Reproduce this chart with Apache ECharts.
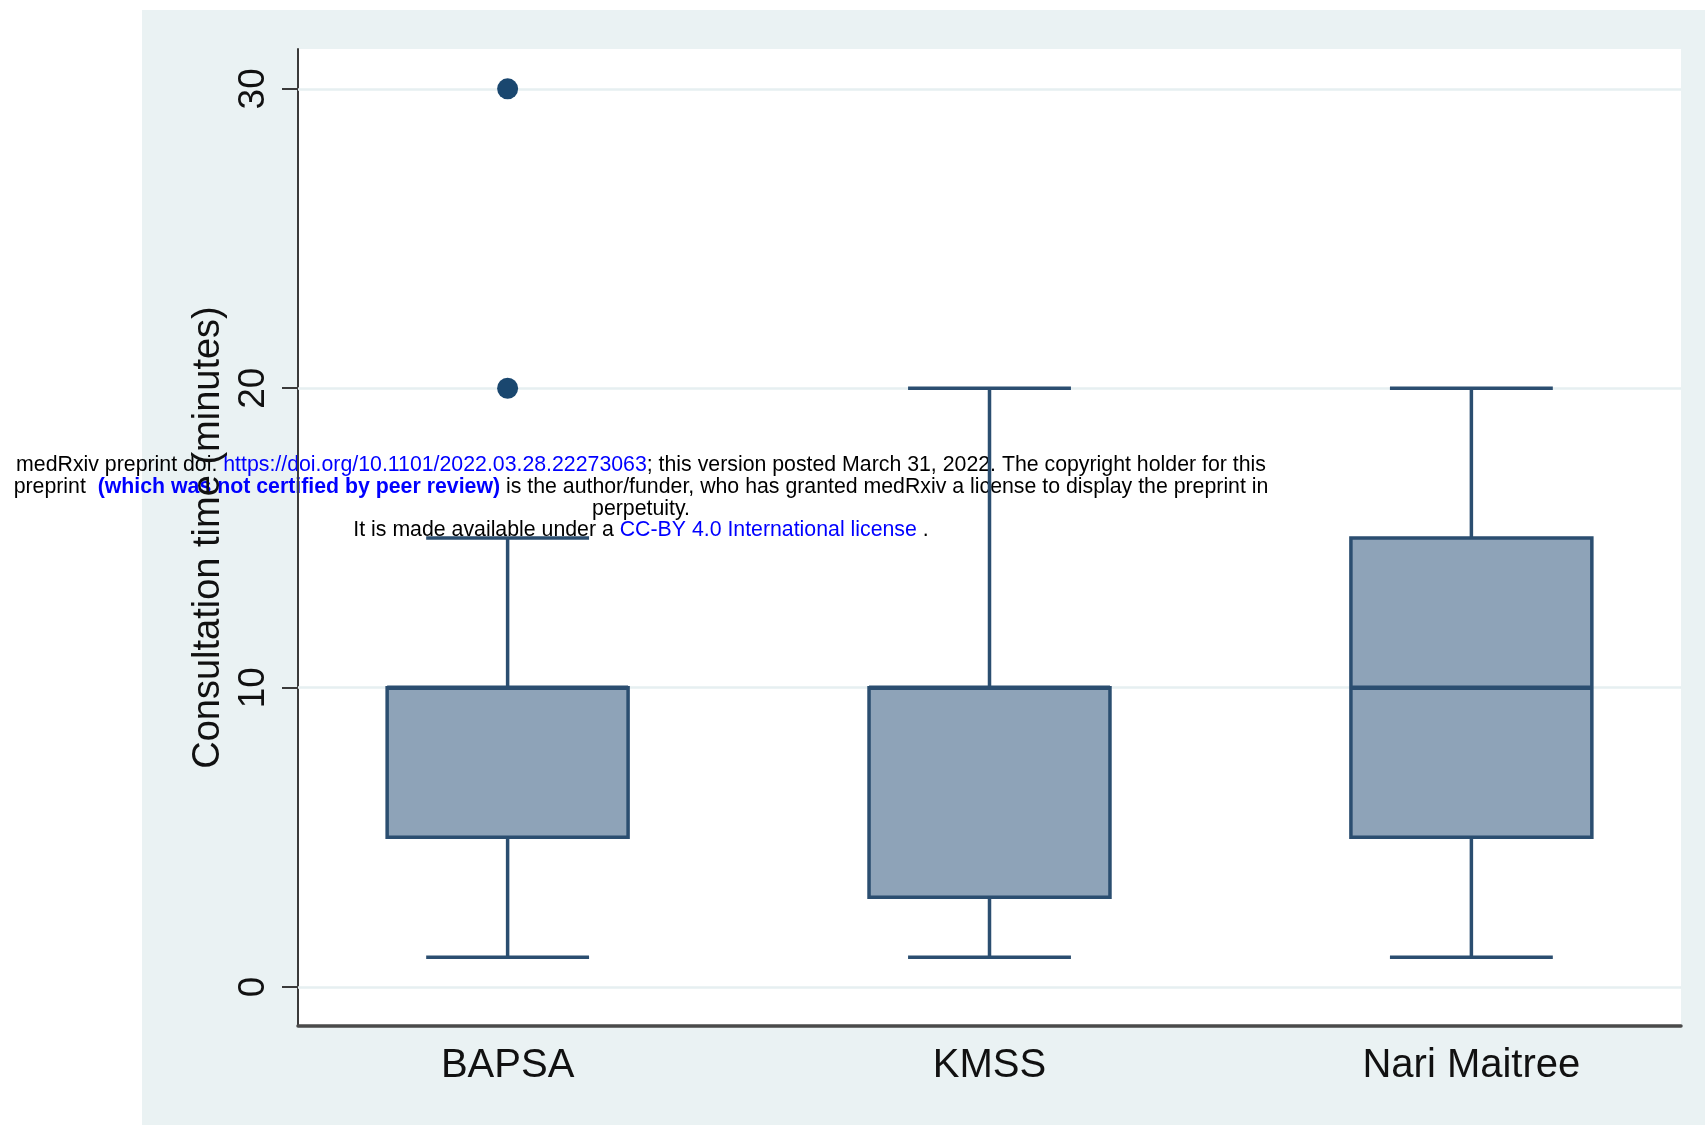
<!DOCTYPE html>
<html>
<head>
<meta charset="utf-8">
<script src="https://cdn.jsdelivr.net/npm/echarts@6/dist/echarts.min.js"></script>
<style>
html,body{margin:0;padding:0;background:#fff;}
#chart{width:1705px;height:1125px;}
</style>
</head>
<body>
<div id="chart"></div>
<script>
// ---- data ----
const categories = ['BAPSA', 'KMSS', 'Nari Maitree'];
const lowerWhisker = [1, 1, 1];
const q1 = [5, 3, 5];
const median = [10, 10, 10];
const q3 = [10, 10, 15];
const upperWhisker = [15, 20, 20];
const outlierCategory = ['BAPSA', 'BAPSA'];
const outlierValue = [20, 30];
const yTicks = [0, 10, 20, 30];
const yTitle = 'Consultation time (minutes)';

// ---- build ----
const catPos = categories.map((c, i) => i + 1);
const boxData = categories.map((c, i) => [catPos[i], lowerWhisker[i], q1[i], median[i], q3[i], upperWhisker[i]]);
const outlierData = outlierCategory.map((c, i) => [categories.indexOf(c) + 1, outlierValue[i]]);

const navy = '#1a476f';
const stroke = '#2b4e70';
const fill = '#8ea3b8';
const font = '"Liberation Sans", Arial, Helvetica, sans-serif';
const wmSize = 21.3;

const chart = echarts.init(document.getElementById('chart'), null, {renderer: 'canvas'});

function renderBox(params, api) {
  const x = api.value(0);
  const lo = api.value(1), b1 = api.value(2), md = api.value(3), b3 = api.value(4), hi = api.value(5);
  const halfBox = 0.25, halfCap = 0.169;
  const pLT = api.coord([x - halfBox, b3]);
  const pRB = api.coord([x + halfBox, b1]);
  const pC = api.coord([x, 0]);
  const yHi = api.coord([x, hi])[1];
  const yLo = api.coord([x, lo])[1];
  const yMd = api.coord([x, md])[1];
  const capL = api.coord([x - halfCap, 0])[0];
  const capR = api.coord([x + halfCap, 0])[0];
  const ls = {stroke: stroke, lineWidth: 3.5};
  return {
    type: 'group',
    children: [
      {type: 'line', shape: {x1: pC[0], y1: yHi, x2: pC[0], y2: pLT[1]}, style: ls},
      {type: 'line', shape: {x1: pC[0], y1: pRB[1], x2: pC[0], y2: yLo}, style: ls},
      {type: 'line', shape: {x1: capL, y1: yHi, x2: capR, y2: yHi}, style: ls},
      {type: 'line', shape: {x1: capL, y1: yLo, x2: capR, y2: yLo}, style: ls},
      {type: 'rect', shape: {x: pLT[0], y: pLT[1], width: pRB[0] - pLT[0], height: pRB[1] - pLT[1]},
        style: {fill: fill, stroke: stroke, lineWidth: 3.5}},
      {type: 'line', shape: {x1: pLT[0], y1: yMd, x2: pRB[0], y2: yMd}, style: {stroke: stroke, lineWidth: 4.5}}
    ]
  };
}

const k = {fill: '#000', fontSize: wmSize, fontFamily: font};
const u = {fill: '#0000ff', fontSize: wmSize, fontFamily: font};
const b = {fill: '#0000ff', fontSize: wmSize, fontWeight: 'bold', fontFamily: font};

const option = {
  animation: false,
  backgroundColor: '#ffffff',
  graphic: [
    {type: 'rect', z: -10, shape: {x: 142, y: 10, width: 1563, height: 1115}, style: {fill: '#eaf2f3'}, silent: true},
    {
      type: 'group', z: 100, silent: true,
      children: [
        {type: 'text', x: 641, y: 465, style: {
          text: '{k|medRxiv preprint doi: }{u|https://doi.org/10.1101/2022.03.28.22273063}{k|; this version posted March 31, 2022. The copyright holder for this}',
          align: 'center', verticalAlign: 'middle', rich: {k: k, u: u}
        }},
        {type: 'text', x: 641, y: 487, style: {
          text: '{k|preprint  }{b|(which was not certified by peer review)}{k| is the author/funder, who has granted medRxiv a license to display the preprint in}',
          align: 'center', verticalAlign: 'middle', rich: {k: k, b: b}
        }},
        {type: 'text', x: 641, y: 509, style: {
          text: 'perpetuity.', align: 'center', verticalAlign: 'middle',
          fill: '#000', fontSize: wmSize, fontFamily: font
        }},
        {type: 'text', x: 641, y: 530, style: {
          text: '{k|It is made available under a }{u|CC-BY 4.0 International license}{k| .}',
          align: 'center', verticalAlign: 'middle', rich: {k: k, u: u}
        }}
      ]
    }
  ],
  grid: {left: 298, top: 49, right: 24, bottom: 99, show: true, backgroundColor: '#ffffff', borderWidth: 0},
  xAxis: {
    type: 'value', min: 0.565, max: 3.435,
    axisLine: {show: true, onZero: false, lineStyle: {color: '#4a4a4a', width: 3.5}},
    axisTick: {show: false},
    splitLine: {show: false},
    axisLabel: {
      customValues: catPos,
      formatter: v => categories[Math.round(v) - 1] || '',
      color: '#111', fontSize: 40, fontFamily: font, margin: 20
    }
  },
  yAxis: {
    type: 'value', min: -1.3, max: 31.33,
    name: yTitle, nameLocation: 'middle', nameRotate: 90, nameGap: 57,
    nameTextStyle: {color: '#111', fontSize: 38, fontFamily: font},
    axisLine: {show: true, lineStyle: {color: '#3a3a3a', width: 2}},
    axisTick: {show: true, customValues: yTicks, length: 16, lineStyle: {color: '#3a3a3a', width: 2}},
    splitLine: {show: false},
    axisLabel: {customValues: yTicks, rotate: 90, color: '#111', fontSize: 37, fontFamily: font, margin: 26}
  },
  series: [
    {
      type: 'line', data: [], silent: true,
      markLine: {
        silent: true, symbol: 'none', label: {show: false},
        lineStyle: {color: '#e6eff1', width: 2.5, type: 'solid'},
        data: yTicks.map(v => ({yAxis: v}))
      }
    },
    {
      type: 'custom', renderItem: renderBox, data: boxData,
      encode: {x: 0, y: [1, 2, 3, 4, 5]}, z: 5
    },
    {
      type: 'scatter', data: outlierData, symbolSize: 21,
      itemStyle: {color: navy, opacity: 1}, z: 6
    }
  ]
};
chart.setOption(option);
</script>
</body>
</html>
